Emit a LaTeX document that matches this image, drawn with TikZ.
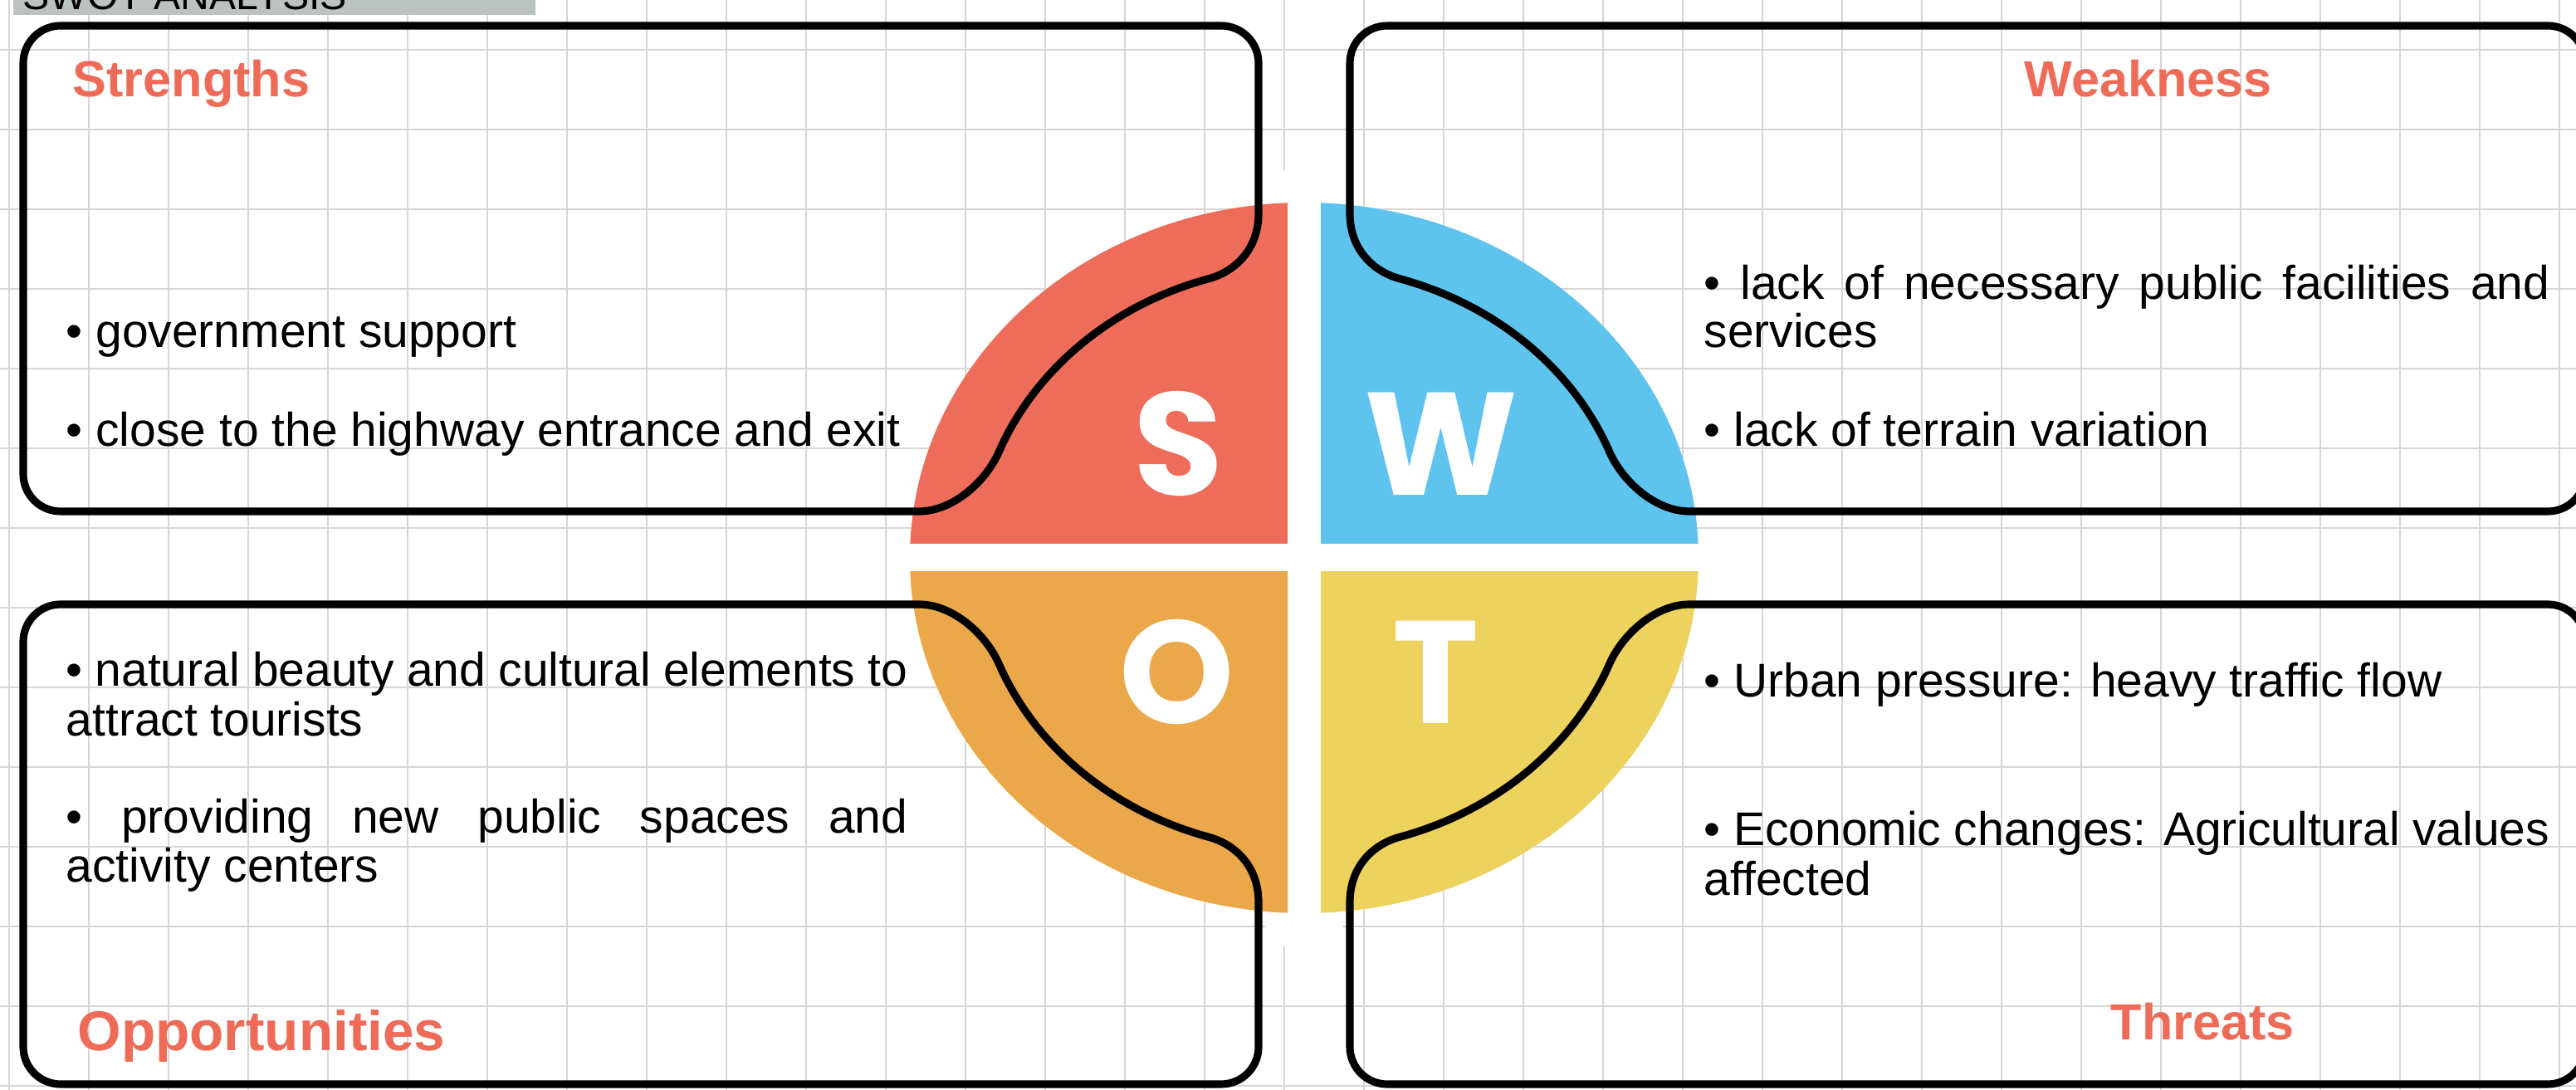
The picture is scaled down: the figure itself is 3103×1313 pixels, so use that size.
\documentclass[tikz,border=0pt]{standalone}
\usepackage{fontspec}
\setmainfont{Liberation Sans}
\newfontfamily\letterfont{Poppins}
\definecolor{gridgray}{HTML}{D8D5D5}
\definecolor{bannergray}{HTML}{BCC2C0}
\definecolor{headred}{HTML}{EE6B58}
\definecolor{swotred}{HTML}{EE6D5A}
\definecolor{swotblue}{HTML}{5EC4EE}
\definecolor{swotorange}{HTML}{EBA84A}
\definecolor{swotyellow}{HTML}{EDD25E}

\begin{document}
\begin{tikzpicture}[x=0.01cm, y=-0.01cm,
    gridline/.style={draw=gridgray, line width=0.8pt},
    boxline/.style={line width=2.6pt, line join=round},
    heading/.style={anchor=base west, inner sep=0pt, text=headred,
      font=\fontsize{17.4}{20}\selectfont\bfseries},
    bodytext/.style={anchor=base west, inner sep=0pt,
      font=\fontsize{16.2}{17}\selectfont},
    letter/.style={inner sep=0pt, text=white,
      font=\letterfont\fontsize{50}{50}\selectfont\bfseries}]
  \useasboundingbox (0,0) rectangle (3103,1313);
  \clip (0,0) rectangle (3103,1313);

  % squared paper
  \foreach \i in {0,...,32}
    \draw[gridline] (11+96*\i,0) -- (11+96*\i,1313);
  \foreach \j in {0,...,13}
    \draw[gridline] (0,60+96*\j) -- (3103,60+96*\j);

  % title strip, cut off at the top
  \fill[bannergray] (16,0) rectangle (645,18);
  \begin{scope}
    \clip (16,0) rectangle (645,18);
    \node[anchor=base west, inner sep=0pt, font=\fontsize{13.7}{14}\selectfont]
      (title) at (27,12) {SWOT ANALYSIS};
  \end{scope}

  % the SWOT disc
  \coordinate (c) at (1571,672);
  \fill[white] (1525,205) rectangle (1617,1140);
  \fill[white] (c) ellipse[x radius=475, y radius=428];
  \foreach \sx/\sy/\col in {-1/-1/swotred, 1/-1/swotblue, -1/1/swotorange, 1/1/swotyellow}{
    \begin{scope}[shift={(c)}]
      \clip (\sx*20,\sy*17) rectangle (\sx*520,\sy*520);
      \fill[\col] (0,0) ellipse[x radius=475, y radius=428];
    \end{scope}
  }

  % the four frames, bent round the disc
  \foreach \sx/\sy/\h in {1/1/641, -1/1/641, 1/-1/634, -1/-1/634}
    \draw[boxline, shift={(c)}, xscale=\sx, yscale=\sy]
      (-464,-56) -- (-1498,-56) arc[start angle=90, end angle=180, radius=45]
      -- (-1543,-\h+45) arc[start angle=180, end angle=270, radius=45]
      -- (-100,-\h) arc[start angle=270, end angle=360, radius=45]
      -- (-55,-415)
      .. controls (-55,-370) and (-85,-344) .. (-116,-336)
      arc[start angle=252.9, end angle=201.3, x radius=395, y radius=352]
      .. controls (-384,-91) and (-424,-56) .. (-464,-56) -- cycle;

  \node[letter] (s) at (1420,535) {S};
  \node[letter] (w) at (1736,535) {W};
  \node[letter] (o) at (1418,810) {O};
  \node[letter] (t) at (1729,810) {T};

  \node[heading] (strengths) at (87,117) {Strengths};
  \node[heading] (weakness) at (2438,117) {Weakness};
  \node[heading, font=\fontsize{19.2}{22}\selectfont\bfseries]
    (opportunities) at (93,1265) {Opportunities};
  \node[heading] (threats) at (2542,1252) {Threats};

  % strengths
  \node[bodytext] (s1) at (79,419) {• government support};
  \node[bodytext] (s2) at (79,538) {• close to the highway entrance and exit};
  % weakness
  \node[bodytext] (w1) at (2052,361)
    {\makebox[10.18cm][s]{• lack of necessary public facilities and}};
  \node[bodytext] (w1b) at (2052,419) {services};
  \node[bodytext] (w2) at (2052,538) {• lack of terrain variation};
  % opportunities
  \node[bodytext] (o1) at (79,826)
    {\makebox[10.13cm][s]{• natural beauty and cultural elements to}};
  \node[bodytext] (o1b) at (79,886) {attract tourists};
  \node[bodytext] (o2) at (79,1003)
    {\makebox[10.13cm][s]{• providing new public spaces and}};
  \node[bodytext] (o2b) at (79,1062) {activity centers};
  % threats
  \node[bodytext] (t1) at (2052,840) {• Urban pressure: heavy traffic flow};
  \node[bodytext] (t2) at (2052,1018)
    {\makebox[10.18cm][s]{• Economic changes: Agricultural values}};
  \node[bodytext] (t2b) at (2052,1078) {affected};
\end{tikzpicture}
\end{document}
